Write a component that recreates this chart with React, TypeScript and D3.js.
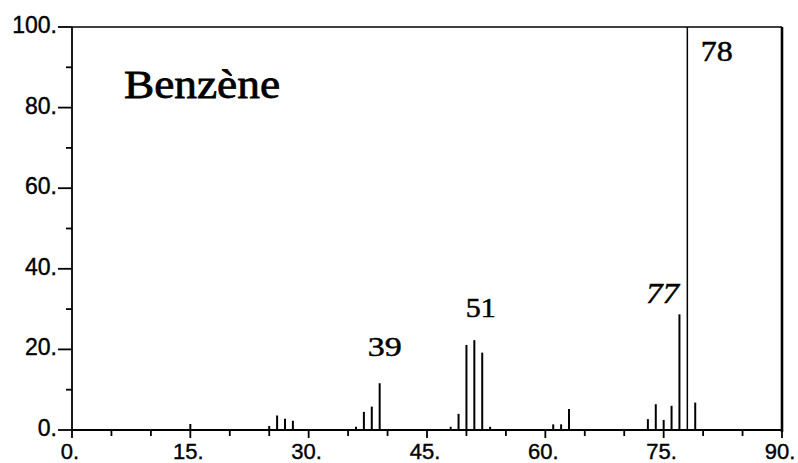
import React from "react";
import * as d3 from "d3";

// m/z values and relative intensities (%)
const mzValues = [15, 25, 26, 27, 28, 36, 37, 38, 39, 48, 49, 50, 51, 52, 53, 61, 62, 63, 73, 74, 75, 76, 77, 78, 79];
const intensities = [1.5, 1.0, 3.6, 2.8, 2.3, 0.8, 4.5, 5.8, 11.6, 0.8, 4.0, 21.1, 22.3, 19.2, 0.8, 1.4, 1.4, 5.2, 2.7, 6.4, 2.5, 6.0, 28.7, 100, 6.8];

const xMajorTicks = [0, 15, 30, 45, 60, 75, 90];
const xMinorTicks = [5, 10, 20, 25, 35, 40, 50, 55, 65, 70, 80, 85];
const yMajorTicks = [0, 20, 40, 60, 80, 100];
const yMinorTicks = [10, 30, 50, 70, 90];

const title = "Benzène";
const labelledPeaks = ["39", "51", "77", "78"];

// layout for annotations (pixel offsets from the peak)
const labelLayout: Record<string, { dx: number; y: number; w: number; fs: number; italic?: boolean }> = {
  "39": { dx: -12, y: 356, w: 34, fs: 28 },
  "51": { dx: -8.5, y: 316.7, w: 30, fs: 27 },
  "77": { dx: -33.5, y: 302.7, w: 33, fs: 29, italic: true },
  "78": { dx: 13.5, y: 61, w: 32, fs: 29 },
};

const W = 798;
const H = 463;
const left = 72, right = 782, top = 27, bottom = 430;

export default function App() {
  const x = d3.scaleLinear().domain([0, 90]).range([left, right]);
  const y = d3.scaleLinear().domain([0, 100]).range([bottom, top]);
  const peaks = mzValues.map((m, i) => ({ m, v: intensities[i] }));
  const sans = "'Liberation Sans', Arial, sans-serif";
  const serif = "'Liberation Serif', 'Times New Roman', serif";

  return (
    <svg width={W} height={H} style={{ position: "fixed", left: 0, top: 0, background: "#fff" }}>
      <rect x={0} y={0} width={W} height={H} fill="#fff" />
      {/* peaks */}
      {peaks.map((p) => (
        <line key={p.m} x1={x(p.m)} x2={x(p.m)} y1={y(0)} y2={y(p.v)} stroke="#000" strokeWidth={p.v >= 100 ? 1.5 : 2} />
      ))}
      {/* frame */}
      <line x1={left} x2={right} y1={top} y2={top} stroke="#000" strokeWidth={1.6} />
      <line x1={right} x2={right} y1={top} y2={bottom + 2} stroke="#000" strokeWidth={2.6} />
      <line x1={left} x2={left} y1={top} y2={bottom} stroke="#000" strokeWidth={1.8} />
      <line x1={left} x2={right} y1={bottom} y2={bottom} stroke="#000" strokeWidth={1.8} />
      {/* y ticks */}
      {yMajorTicks.map((t) => (
        <g key={"ym" + t}>
          <line x1={58} x2={left} y1={y(t)} y2={y(t)} stroke="#000" strokeWidth={1.8} />
          <text x={57} y={y(t) + 6} textAnchor="end" fontFamily={sans} fontSize={23} fill="#000" stroke="#000" strokeWidth={0.4}>
            {t + "."}
          </text>
        </g>
      ))}
      {yMinorTicks.map((t) => (
        <line key={"yn" + t} x1={66} x2={left} y1={y(t)} y2={y(t)} stroke="#000" strokeWidth={1.8} />
      ))}
      {/* x ticks */}
      {xMajorTicks.map((t) => (
        <g key={"xm" + t}>
          <line x1={x(t)} x2={x(t)} y1={bottom} y2={bottom + 8} stroke="#000" strokeWidth={1.8} />
          <text x={x(t) - 2} y={459} textAnchor="middle" fontFamily={sans} fontSize={22} fill="#000" stroke="#000" strokeWidth={0.4}>
            {t + "."}
          </text>
        </g>
      ))}
      {xMinorTicks.map((t) => (
        <line key={"xn" + t} x1={x(t)} x2={x(t)} y1={bottom} y2={bottom + 6} stroke="#000" strokeWidth={1.8} />
      ))}
      {/* title */}
      <text x={124} y={98} fontFamily={serif} fontSize={41} textLength={156} lengthAdjust="spacingAndGlyphs" fill="#000" stroke="#000" strokeWidth={0.8}>
        {title}
      </text>
      {/* peak labels */}
      {labelledPeaks.map((lab) => {
        const L = labelLayout[lab];
        return (
          <text
            key={lab}
            x={x(+lab) + L.dx}
            y={L.y}
            fontFamily={serif}
            fontSize={L.fs}
            fontStyle={L.italic ? "italic" : "normal"}
            textLength={L.w}
            lengthAdjust="spacingAndGlyphs"
            fill="#000"
            stroke="#000"
            strokeWidth={0.5}
          >
            {lab}
          </text>
        );
      })}
    </svg>
  );
}
